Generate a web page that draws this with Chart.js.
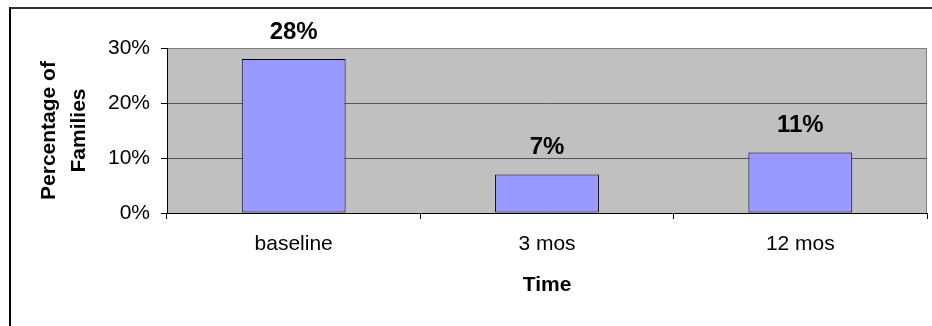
<!DOCTYPE html>
<html>
<head>
<meta charset="utf-8">
<script src="https://cdn.jsdelivr.net/npm/chart.js@4/dist/chart.umd.min.js"></script>
<style>
  html, body { margin: 0; padding: 0; background: #fff; overflow: hidden; }
  #wrap { position: relative; width: 932px; height: 326px; }
  #frame {
    position: absolute; left: 9px; top: 7px; width: 2000px; height: 2000px;
    border-top: 2px solid #333; border-left: 2px solid #000;
  }
  #chart { position: absolute; left: 0; top: 0; }
</style>
</head>
<body>
<div id="wrap">
  <div id="frame"></div>
  <canvas id="chart" width="932" height="326"></canvas>
</div>
<script>
// time points and share of families at each one (%)
const timePoints = ['baseline', '3 mos', '12 mos'];
const familyShare = [28, 7, 11];
const yTicks = [0, 10, 20, 30];

const FONT = "'Liberation Sans', Arial, sans-serif";

// grey plot background + right edge, like an old spreadsheet chart
const plotBackground = {
  id: 'plotBackground',
  beforeDraw(chart) {
    const { ctx, chartArea: a } = chart;
    ctx.save();
    ctx.fillStyle = '#c0c0c0';
    ctx.fillRect(a.left, a.top, a.right - a.left, a.bottom - a.top);
    ctx.strokeStyle = '#808080';
    ctx.lineWidth = 1;
    ctx.beginPath();
    ctx.moveTo(a.right - 0.5, a.top);
    ctx.lineTo(a.right - 0.5, a.bottom);
    ctx.stroke();
    ctx.restore();
  }
};

// percentage labels above each bar
const barLabels = {
  id: 'barLabels',
  afterDatasetsDraw(chart) {
    const { ctx } = chart;
    const meta = chart.getDatasetMeta(0);
    ctx.save();
    ctx.font = 'bold 24px ' + FONT;
    ctx.fillStyle = '#000';
    ctx.textAlign = 'center';
    ctx.textBaseline = 'middle';
    meta.data.forEach((bar, i) => {
      const v = chart.data.datasets[0].data[i];
      ctx.fillText(Math.round(v) + '%', bar.x, bar.y - 27);
    });
    ctx.restore();
  }
};

new Chart(document.getElementById('chart'), {
  type: 'bar',
  data: {
    labels: timePoints,
    datasets: [{
      data: familyShare,
      backgroundColor: '#9999ff',
      borderColor: '#000',
      borderWidth: 1,
      borderSkipped: false,
      categoryPercentage: 1,
      barPercentage: 0.41
    }]
  },
  options: {
    responsive: false,
    animation: false,
    layout: { padding: { top: 48, right: 5, left: 0, bottom: 0 } },
    plugins: {
      legend: { display: false },
      tooltip: { enabled: false }
    },
    scales: {
      x: {
        offset: true,
        grid: {
          offset: true,
          drawOnChartArea: false,
          drawTicks: true,
          tickLength: 6,
          color: '#000'
        },
        border: { display: true, color: '#000', width: 1 },
        ticks: {
          color: '#000',
          padding: 13,
          maxRotation: 0,
          font: { family: FONT, size: 21 }
        },
        title: {
          display: true,
          text: 'Time',
          color: '#000',
          font: { family: FONT, size: 21, weight: 'bold' },
          padding: { top: 0, bottom: 28 }
        },
        afterFit(scale) { scale.height = 113; }
      },
      y: {
        min: 0,
        max: 30,
        afterBuildTicks(scale) { scale.ticks = yTicks.map(v => ({ value: v })); },
        grid: {
          color: ctx => (ctx.tick && ctx.tick.value === 30 ? '#808080' : '#555'),
          tickColor: '#000',
          tickLength: 6,
          lineWidth: 1
        },
        border: { display: true, color: '#000', width: 1 },
        ticks: {
          color: '#000',
          padding: 11,
          font: { family: FONT, size: 21 },
          callback: v => v + '%'
        },
        title: {
          display: true,
          text: ['Percentage of', 'Families'],
          color: '#000',
          font: { family: FONT, size: 21, weight: 'bold', lineHeight: 1.43 },
          padding: { top: 34, bottom: 0 }
        },
        afterFit(scale) { scale.width = 167; }
      }
    }
  },
  plugins: [plotBackground, barLabels]
});
</script>
</body>
</html>
